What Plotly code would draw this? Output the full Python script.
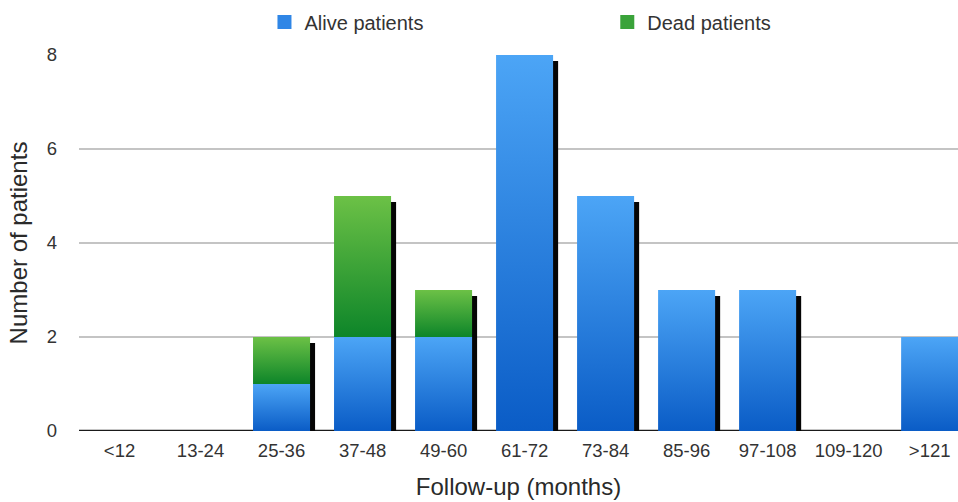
import plotly.graph_objects as go

# Follow-up intervals and patient counts per interval
categories = ["<12", "13-24", "25-36", "37-48", "49-60", "61-72",
              "73-84", "85-96", "97-108", "109-120", ">121"]
alive = [0, 0, 1, 2, 2, 8, 5, 3, 3, 0, 2]
dead = [0, 0, 1, 3, 1, 0, 0, 0, 0, 0, 0]
y_ticks = [0, 2, 4, 6, 8]

BLUE = ("#0a5cc6", "#4ca5f6")    # bottom, top of gradient
GREEN = ("#0d8529", "#6cc146")
HALF = 0.352                     # half bar width (category units)
SH_DX, SH_DY = 0.062, 0.13       # drop-shadow offset (x units, y units)

fig = go.Figure()

xs = list(range(len(categories)))

# drop shadows behind each stacked bar
for i, a, d in zip(xs, alive, dead):
    total = a + d
    if total <= 0:
        continue
    x0, x1 = i - HALF + SH_DX, i + HALF + SH_DX
    y1 = total - SH_DY
    fig.add_trace(go.Scatter(
        x=[x0, x1, x1, x0, x0], y=[-1, -1, y1, y1, -1],
        mode="lines", fill="toself", fillcolor="#050505",
        line=dict(width=0, color="rgba(0,0,0,0)"),
        hoverinfo="skip", showlegend=False))


def segment(i, base, height, colors, name):
    x0, x1 = i - HALF, i + HALF
    y0, y1 = base, base + height
    return go.Scatter(
        x=[x0, x1, x1, x0, x0], y=[y0, y0, y1, y1, y0],
        mode="lines", fill="toself",
        fillgradient=dict(type="vertical",
                          colorscale=[[0, colors[0]], [1, colors[1]]]),
        line=dict(width=0, color="rgba(0,0,0,0)"),
        name=name, hoverinfo="skip", showlegend=False)


for i, a, d in zip(xs, alive, dead):
    if a > 0:
        fig.add_trace(segment(i, 0, a, BLUE, "Alive patients"))
    if d > 0:
        fig.add_trace(segment(i, a, d, GREEN, "Dead patients"))

# legend entries, one per legend box
fig.add_trace(go.Scatter(x=[None], y=[None], mode="markers", name="Alive patients",
                         legend="legend",
                         marker=dict(symbol="square", size=14, color="#2f86e6")))
fig.add_trace(go.Scatter(x=[None], y=[None], mode="markers", name="Dead patients",
                         legend="legend2",
                         marker=dict(symbol="square", size=14, color="#3aa33a")))

font = "Liberation Sans, Arial, Helvetica, sans-serif"
legend_style = dict(orientation="h", xanchor="left", yanchor="middle", y=1.088,
                    font=dict(size=20, color="#333333"), bgcolor="rgba(0,0,0,0)")

fig.update_layout(
    width=958, height=502,
    margin=dict(l=79, r=0, t=55, b=71),
    paper_bgcolor="white", plot_bgcolor="white",
    font=dict(family=font, color="#333333", size=19),
    showlegend=True,
    legend=dict(x=0.211, **legend_style),
    legend2=dict(x=0.601, **legend_style),
    xaxis=dict(
        range=[-0.5, 10.35], tickmode="array", tickvals=xs, ticktext=categories,
        showgrid=False, zeroline=False, showline=False, ticks="",
        ticklabelstandoff=6,
        tickfont=dict(size=18.5, color="#333333"),
        title=dict(text="Follow-up (months)", font=dict(size=24, color="#2a2a2a"),
                   standoff=18)),
    yaxis=dict(
        range=[0, 8], tickmode="array", tickvals=y_ticks,
        showgrid=True, gridcolor="#c4c4c4", gridwidth=1.5,
        zeroline=False, showline=False, ticks="",
        ticklabelstandoff=21,
        tickfont=dict(size=18.5, color="#333333"),
        title=dict(text="Number of patients", font=dict(size=24, color="#2a2a2a"),
                   standoff=12)),
    shapes=[dict(type="line", xref="paper", yref="y", x0=0, x1=1, y0=0, y1=0,
                 line=dict(color="#1a1a1a", width=2.5), layer="below")],
)

fig.write_html("out.html")
